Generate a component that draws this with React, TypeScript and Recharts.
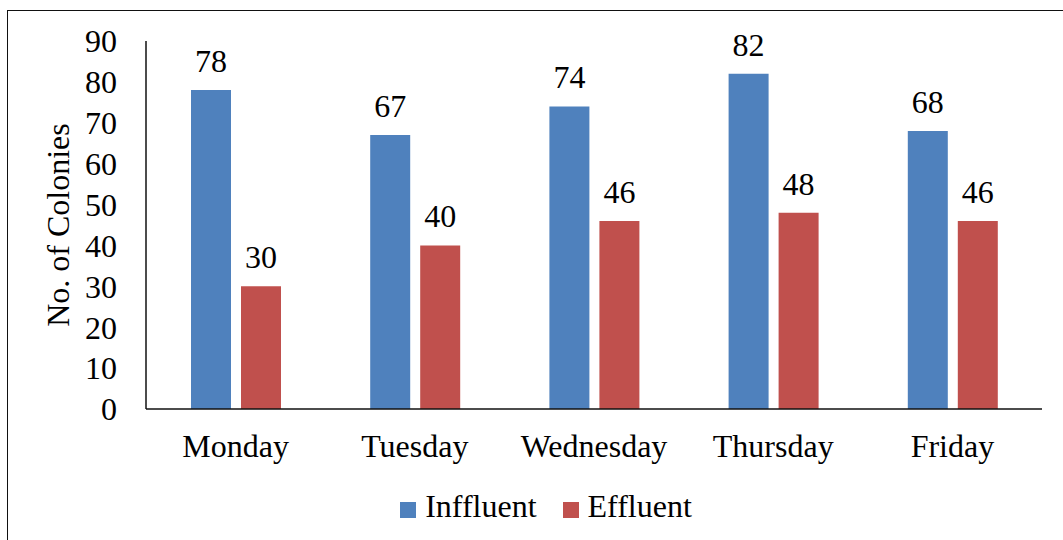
import { BarChart, Bar, XAxis, YAxis, Legend, LabelList } from "recharts";

const days = ["Monday", "Tuesday", "Wednesday", "Thursday", "Friday"];
const influent = [78, 67, 74, 82, 68];
const effluent = [30, 40, 46, 48, 46];
const yTicks = [0, 10, 20, 30, 40, 50, 60, 70, 80, 90];

const rows = days.map((day, i) => ({ day, influent: influent[i], effluent: effluent[i] }));

const font = "Liberation Serif, DejaVu Serif, serif";
const fs = 32;
const seriesOrder = ["Inffluent", "Effluent"];

export default function App() {
  return (
    <div
      style={{
        position: "absolute",
        left: 0,
        top: 0,
        width: 1063,
        height: 540,
        background: "#fff",
        fontFamily: font,
        overflow: "hidden",
      }}
    >
      <div
        style={{
          position: "absolute",
          left: 7,
          top: 10,
          width: 1100,
          height: 600,
          borderTop: "1.5px solid #111",
          borderLeft: "1.5px solid #111",
        }}
      />
      <div style={{ position: "absolute", left: 0, top: 0 }}>
        <BarChart
          width={1063}
          height={540}
          data={rows}
          margin={{ top: 41, right: 21, bottom: 15, left: 0 }}
          barSize={40}
          barGap={10}
          style={{ fontFamily: font }}
        >
          <XAxis
            dataKey="day"
            axisLine={{ stroke: "#111", strokeWidth: 1.5 }}
            tickLine={false}
            tickSize={0}
            tickMargin={25}
            height={79}
            tick={{ fill: "#000", fontSize: fs, fontFamily: font }}
          />
          <YAxis
            domain={[0, 90]}
            ticks={yTicks}
            width={146}
            interval={0}
            axisLine={{ stroke: "#111", strokeWidth: 1.5 }}
            tickLine={false}
            tickSize={0}
            tickMargin={29}
            tick={{ fill: "#000", fontSize: fs, fontFamily: font }}
            label={{
              value: "No. of Colonies",
              angle: -90,
              position: "insideLeft",
              dx: 53,
              fill: "#000",
              fontSize: fs,
              fontFamily: font,
              style: { textAnchor: "middle", fontFamily: font },
            }}
          />
          <Legend
            iconType="square"
            iconSize={16}
            itemSorter={(item: any) => seriesOrder.indexOf(item.value)}
            wrapperStyle={{ fontSize: fs, fontFamily: font, color: "#000", paddingLeft: 38 }}
            formatter={(v: string) => (
              <span style={{ color: "#000", marginLeft: 5, marginRight: 16 }}>{v}</span>
            )}
          />
          <Bar dataKey="influent" name="Inffluent" fill="#4F81BD" isAnimationActive={false}>
            <LabelList dataKey="influent" position="top" offset={18} fill="#000" fontSize={fs} fontFamily={font} />
          </Bar>
          <Bar dataKey="effluent" name="Effluent" fill="#C0504D" isAnimationActive={false}>
            <LabelList dataKey="effluent" position="top" offset={18} fill="#000" fontSize={fs} fontFamily={font} />
          </Bar>
        </BarChart>
      </div>
    </div>
  );
}
